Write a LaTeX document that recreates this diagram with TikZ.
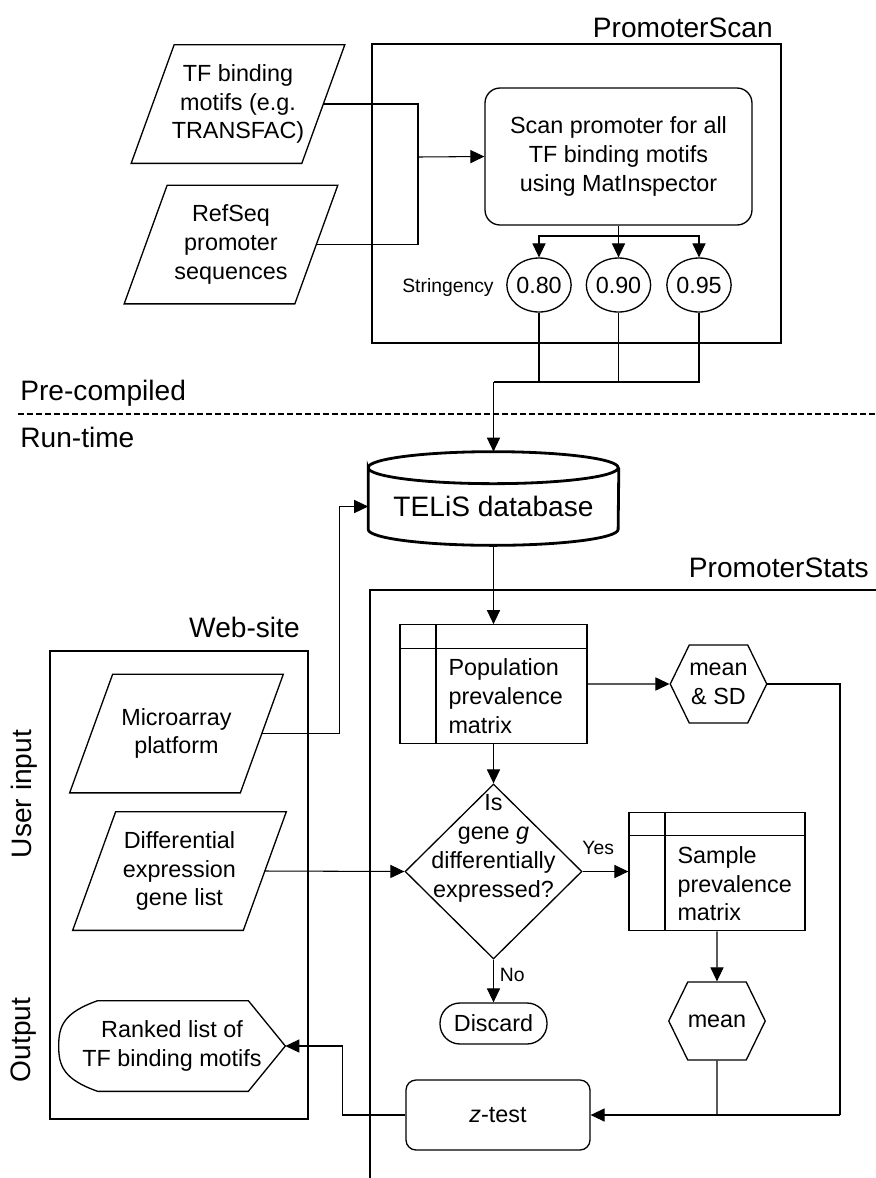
\documentclass[tikz,border=0pt]{standalone}
\usepackage{fontspec}
\setmainfont{Liberation Sans}
\usetikzlibrary{arrows.meta,shapes.geometric,shapes.symbols,calc}

\begin{document}
\begin{tikzpicture}[x=0.02cm,y=-0.02cm,>={Triangle[length=8pt,width=7.5pt]},font=\fontsize{13.3}{16.4}\selectfont,
conn/.style={line width=0.6pt},frame/.style={line width=1.1pt},
title/.style={font=\fontsize{16}{19}\selectfont,inner sep=0pt},small/.style={font=\fontsize{11}{13}\selectfont},
io/.style={minimum width=3.4cm,minimum height=2.36cm,align=center,inner sep=0pt},
proc/.style={draw,line width=0.75pt,rounded corners=0.3cm,align=center},
cut/.style={ellipse,draw,line width=0.75pt,minimum width=1.2cm,minimum height=1.08cm,inner sep=0pt},
mat/.style={draw,line width=0.75pt,text width=#1,inner xsep=0pt,inner ysep=0pt,text height=1.02cm,text depth=1.35cm,align=left,execute at begin node={\leftskip=0.97cm},
  path picture={\draw[line width=0.75pt] ([yshift=-0.47cm]path picture bounding box.north west) -- ([yshift=-0.47cm]path picture bounding box.north east);
    \draw[line width=0.75pt] ([xshift=0.72cm]path picture bounding box.north west) -- ([xshift=0.72cm]path picture bounding box.south west);}},
prep/.style={signal,signal to=west and east,signal pointer angle=128,draw,line width=0.75pt,minimum width=1.9cm,minimum height=1.56cm,inner sep=0pt,align=center},
ask/.style={diamond,draw,line width=0.75pt,minimum width=3.54cm,minimum height=3.5cm,inner sep=0pt}]
\useasboundingbox (0,0) rectangle (876,1178);
\draw[frame] (372,44) rectangle (781,343);
\draw[frame] (50,651) rectangle (308,1119);
\draw[frame] (876,590) -- (370,590) -- (370,1178);
\node[title,anchor=base east] (scantitle) at (773,37) {PromoterScan};
\node[title,anchor=base east] (webtitle) at (300,637) {Web-site};
\node[title,anchor=base east] (statstitle) at (869,577) {PromoterStats};
\node[title,anchor=base west] (pre) at (20,400) {Pre-compiled};
\node[title,anchor=base west] (run) at (20,447) {Run-time};
\draw[conn,dash pattern=on 3.4pt off 1.7pt] (18,414) -- (876,414);
\node[title,rotate=90] (uin) at (24,794) {User input};
\node[title,rotate=90] (outp) at (24,1040) {Output};

\node[io] (tf) at (238,104) {TF binding\\motifs (e.g.\\TRANSFAC)};
\node[io] (ref) at (231,244.5) {RefSeq\\promoter\\sequences};
\node[io] (micro) at (176.5,733.5) {Microarray\\platform};
\node[io] (diff) at (179.5,871) {Differential\\expression\\gene list};
\foreach \n in {tf,ref,micro,diff}
  \draw[line width=0.75pt] ($(\n.north west)+(21.5,0)$) -- ($(\n.north east)+(21.5,0)$) -- ($(\n.south east)+(-21.5,0)$) -- ($(\n.south west)+(-21.5,0)$) -- cycle;
\node[proc,minimum width=5.34cm,minimum height=2.74cm] (scan) at (618.5,156.5) {Scan promoter for all\\TF binding motifs\\using MatInspector};
\node[cut] (s80) at (539,285) {0.80};
\node[cut] (s90) at (618.5,285) {0.90};
\node[cut] (s95) at (699,285) {0.95};
\node[small] (str) at (448,287) {Stringency};
\coordinate (join) at (418,157);
\draw[conn] (tf.east) -| (join);
\draw[conn] (ref.east) -| (join);
\draw[conn,->] (join) -- (scan.west);
\coordinate (split) at (618.5,236);
\draw[conn] (scan.south) -- (split);
\draw[conn,->] (split) -| (s80);
\draw[conn,->] (split) -- (s90);
\draw[conn,->] (split) -| (s95);
\coordinate (merge) at (493.5,382);
\draw[conn] (s80) |- (merge);
\draw[conn] (s90) |- (merge);
\draw[conn] (s95) |- (merge);

\node[minimum width=5cm,minimum height=1.54cm,inner sep=0pt,font=\fontsize{16}{19}\selectfont] (db) at (493.5,506.5) {TELiS database};
\draw[line width=1.6pt] (db.north west) arc[start angle=180,end angle=-180,x radius=2.5cm,y radius=0.32cm] -- ($(db.south west)+(0,-16)$) arc[start angle=180,end angle=360,x radius=2.5cm,y radius=0.32cm] -- (db.north east);
\coordinate (dbtop) at ($(db.north)+(0,-16)$);
\draw[conn,->] (merge) -- (dbtop);

\node[minimum width=4.52cm,minimum height=1.8cm,inner sep=0pt,align=center] (ranked) at (172,1046) {Ranked list of\\TF binding motifs};
\draw[line width=0.75pt] ($(ranked.north west)+(39,0)$) -- ($(ranked.north east)+(-37,0)$) -- (ranked.east) -- ($(ranked.south east)+(-37,0)$) -- ($(ranked.south west)+(39,0)$) .. controls ($(ranked.south west)+(5,-12)$) and ($(ranked.west)+(0,20)$) .. (ranked.west) .. controls ($(ranked.west)+(0,-20)$) and ($(ranked.north west)+(5,12)$) .. cycle;

\node[mat=3.74cm] (pop) at (493.5,684) {Population\\prevalence\\matrix};
\node[prep] (msd) at (718.5,684) {mean\\\& SD};
\node[ask,label={[align=center,yshift=0.46cm]center:Is\\gene \textit{g}\\differentially\\expressed?}] (dec) at (493.5,871.5) {};
\node[mat=3.52cm] (sample) at (717,871.5) {Sample\\prevalence\\matrix};
\node[proc,rounded corners=0.4cm,minimum width=2.14cm,minimum height=0.82cm,inner sep=0pt] (discard) at (493.5,1023.5) {Discard};
\node[prep] (mean) at (717,1021) {mean};
\node[proc,rounded corners=0.2cm,minimum width=3.68cm,minimum height=1.4cm] (ztest) at (498,1115) {\textit{z}-test};

\draw[conn,->] (micro.east) -- ++(78,0) |- (db.west);
\draw[conn,->] (db) -- (pop);
\draw[conn,->] (pop) -- (msd);
\draw[conn,->] (pop) -- (dec);
\draw[conn,->] (diff.east) -- (dec.west);
\draw[conn,->] (dec.east) -- node[small,pos=0.34,above,yshift=0.2cm] {Yes} (sample.west);
\draw[conn,->] (dec.south) -- node[small,pos=0.35,right] {No} (discard.north);
\draw[conn,->] (sample) -- (mean);
\coordinate (rt) at (840,1115);
\draw[conn] (msd.east) -| (rt);
\draw[conn] (mean) -- (mean |- ztest);
\draw[conn,->] (rt) -- (ztest.east);
\draw[conn,->] (ztest.west) -- ++(-63,0) |- (ranked.east);
\end{tikzpicture}
\end{document}
